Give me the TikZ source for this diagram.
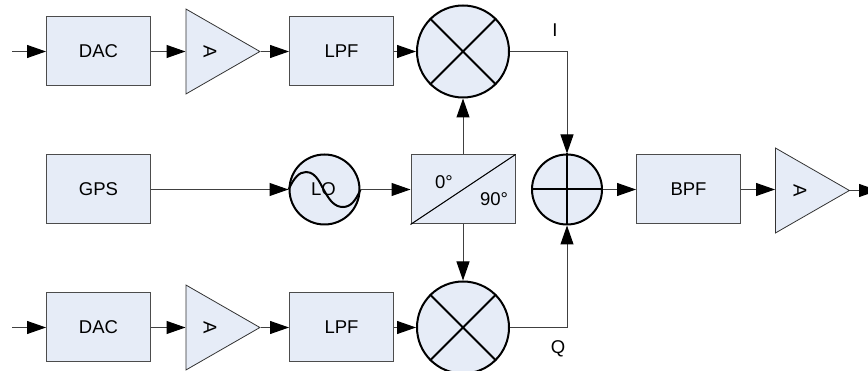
\documentclass[tikz,border=0pt]{standalone}
\usepackage{fontspec}
\setmainfont{Liberation Sans}
\usetikzlibrary{arrows.meta,positioning,shapes.geometric}
\definecolor{boxfill}{RGB}{230,236,247}
\tikzset{
  blockbox/.style={draw=black!70,fill=boxfill,line width=1pt,minimum width=104pt,minimum height=69pt,inner sep=0pt,font=\fontsize{18.5}{20}\selectfont},
  ampbox/.style={isosceles triangle,isosceles triangle stretches,draw=black!80,fill=boxfill,line width=0.8pt,minimum width=85pt,minimum height=74pt,inner sep=0pt,anchor=lower side},
  roundbox/.style={circle,draw=black,fill=boxfill,line width=2pt,minimum size=70pt,inner sep=0pt},
  mixbox/.style={circle,draw=black,fill=boxfill,line width=2pt,minimum size=92pt,inner sep=0pt},
  sig/.style={draw=black!75,line width=1pt,-{Triangle[length=19pt,width=13pt,color=black,fill=black]}},
  lbl/.style={font=\fontsize{18.5}{20}\selectfont,inner sep=0pt}
}
\begin{document}
\begin{tikzpicture}[x=1pt,y=-1pt]
\useasboundingbox (0,0) rectangle (868,371);

% top row
\coordinate (intop) at (12,51.5);
\node[blockbox] (dactop) at (98.5,51.5) {DAC};
\node[ampbox] (amptop) at (185.5,51.5) {};
\node[rotate=-90,lbl] (amptoptext) at (210,51.5) {A};
\node[blockbox] (lpftop) at (341.5,51.5) {LPF};
\node[mixbox] (mixtop) at (463,51.5) {};
\draw[line width=2pt] (mixtop.45) -- (mixtop.225) (mixtop.135) -- (mixtop.315);

% middle row
\node[blockbox] (gps) at (98.5,189.5) {GPS};
\node[roundbox] (lo) at (324.5,189.5) {};
\node[lbl] (lotext) at (323.5,189.5) {LO};
\draw[line width=2pt] (lo.west) .. controls (294,178) and (299,172) .. (306,172)
  .. controls (317,172) and (321,186) .. (325,192)
  .. controls (330,201) and (335,207) .. (343,207)
  .. controls (351,207) and (356,200) .. (lo.east);
\node[blockbox] (split) at (463,189.5) {};
\draw[line width=1pt] (split.south west) -- (split.north east);
\node[lbl] (deg0) at (444,182) {0°};
\node[lbl] (deg90) at (494,199) {90°};
\node[roundbox] (sum) at (567,189.5) {};
\draw[line width=2pt] (sum.west) -- (sum.east) (sum.north) -- (sum.south);
\node[blockbox] (bpf) at (688.5,189.5) {BPF};
\node[ampbox] (ampmid) at (775,190.5) {};
\node[rotate=-90,lbl] (ampmidtext) at (800,190.5) {A};
\coordinate (outmid) at (878,190.5);

% bottom row
\coordinate (inbot) at (12,327.5);
\node[blockbox] (dacbot) at (98.5,327.5) {DAC};
\node[ampbox] (ampbot) at (185.5,327.5) {};
\node[rotate=-90,lbl] (ampbottext) at (210,327.5) {A};
\node[blockbox] (lpfbot) at (341.5,327.5) {LPF};
\node[mixbox] (mixbot) at (463,327.5) {};
\draw[line width=2pt] (mixbot.45) -- (mixbot.225) (mixbot.135) -- (mixbot.315);

\draw[sig] (intop) -- (dactop);
\draw[sig] (dactop) -- (amptop.lower side);
\draw[sig] (amptop.apex) -- (lpftop);
\draw[sig] (lpftop) -- (mixtop);
\draw[sig] (gps) -- (lo);
\draw[sig] (lo) -- (split);
\draw[sig] (split) -- (mixtop);
\draw[sig] (split) -- (mixbot);
\draw[sig] (mixtop) -| (sum);
\draw[sig] (mixbot) -| (sum);
\draw[sig] (sum) -- (bpf);
\draw[sig] (bpf) -- (bpf -| ampmid.lower side);
\draw[sig] (ampmid.apex) -- (outmid);
\draw[sig] (inbot) -- (dacbot);
\draw[sig] (dacbot) -- (ampbot.lower side);
\draw[sig] (ampbot.apex) -- (lpfbot);
\draw[sig] (lpfbot) -- (mixbot);

\node[lbl] (ilabel) at (555,30) {I};
\node[lbl] (qlabel) at (558,349) {Q};
\end{tikzpicture}
\end{document}
